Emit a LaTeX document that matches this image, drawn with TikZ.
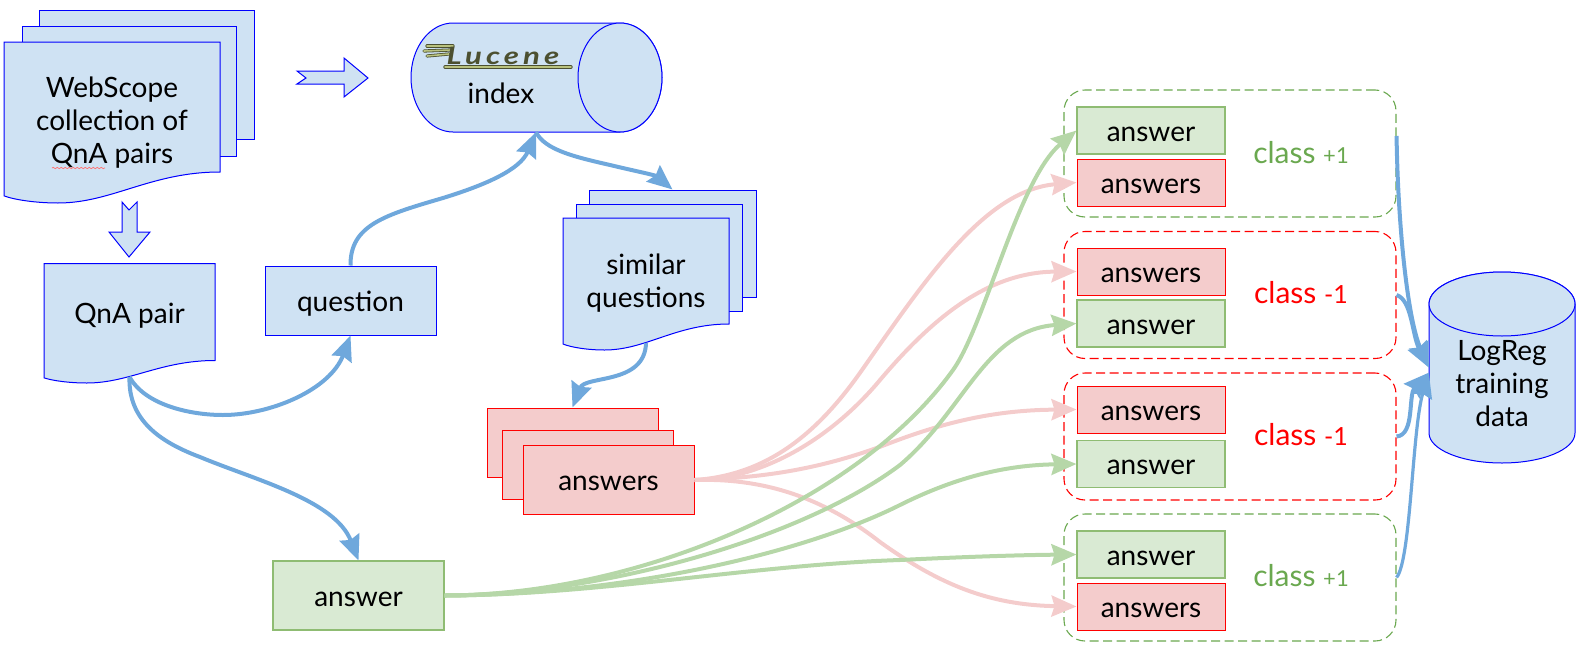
\documentclass[tikz,border=0pt]{standalone}
\usepackage{fontspec}
\setmainfont{Lato}
\newfontfamily\logofont[LetterSpace=17,FakeStretch=1.3]{Lato}
\usetikzlibrary{arrows.meta,decorations.pathmorphing}
\definecolor{sheetblue}{HTML}{CFE2F3}
\definecolor{sheetred}{HTML}{F4CCCC}
\definecolor{sheetgreen}{HTML}{D9EAD3}
\definecolor{edgegreen}{HTML}{8FBC73}
\definecolor{dashgreen}{HTML}{6AA84F}
\definecolor{linkblue}{HTML}{6FA8DC}
\definecolor{linkgreen}{HTML}{B6D7A8}
\definecolor{linkred}{HTML}{F4CCCC}
\definecolor{logoolive}{HTML}{B9C27E}
\definecolor{logodark}{HTML}{4C5030}
\tikzset{
  bluesheet/.style={draw=blue,fill=sheetblue,line width=1pt},
  bluebox/.style={bluesheet,inner sep=0pt},
  redbox/.style={draw=red,fill=sheetred,line width=1pt,inner sep=0pt},
  greenbox/.style={draw=edgegreen,fill=sheetgreen,line width=1.1pt,inner sep=0pt},
  anchorbox/.style={inner sep=0pt},
  smallbox/.style={minimum width=148,minimum height=47},
  bigbox/.style={minimum width=171,minimum height=69},
  classbox/.style={rounded corners=21pt,dash pattern=on 9pt off 4.5pt,line width=1.1pt,minimum width=332,minimum height=127,inner sep=0pt},
  lbl/.style={font=\fontsize{28}{33}\selectfont,align=center,inner sep=0pt},
  boxlbl/.style={font=\fontsize{28}{33}\selectfont,text height=21pt,text depth=0pt},
  classlbl/.style={lbl,font=\fontsize{30}{33}\selectfont},
  linkb/.style={draw=linkblue,line width=4pt,->},
  linkg/.style={draw=linkgreen,line width=4pt,->},
  linkr/.style={draw=linkred,line width=4pt,->}
}
\newcommand{\docsheet}[6]{%
  \pgfmathsetmacro\sheetw{#4-#2}
  \filldraw[bluesheet] (#2,#3)--(#4,#3)--(#4,#5)
    .. controls ({#4-.32*\sheetw},#5) and ({#2+.5*\sheetw},{#5+#6}) .. ({#2+.25*\sheetw},{#5+#6})
    .. controls ({#2+.15*\sheetw},{#5+#6}) and ({#2+.05*\sheetw},{#5+.9*#6}) .. (#2,{#5+.77*#6})--cycle;
  \node (#1) at ({(#2+#4)/2},{(#3+#5+.72*#6)/2})[anchorbox,minimum width=\sheetw,minimum height={#5+.72*#6-#3}]{};
}
\begin{document}
\begin{tikzpicture}[x=1pt,y=-1pt,>={Stealth[length=25pt,width=21pt,inset=3pt]}]
  \useasboundingbox (0,0) rectangle (1582,648);
  % left column
  \node (webback) at (146.5,74.5)[bluebox,minimum width=215,minimum height=129]{};
  \node (webmid) at (129,91)[bluebox,minimum width=214,minimum height=130]{};
  \docsheet{webfront}{4}{42}{220}{172}{31}
  \node (webtxt) at (112,123)[lbl]{WebScope\\collection of\\QnA pairs};
  \draw[red!55,line width=.7pt,decorate,decoration={snake,amplitude=.7pt,segment length=4pt}] (52,168)--(105,168);
  \filldraw[bluesheet] (297,71)--(344,71)--(344,58)--(368,78)--(344,97)--(344,84)--(297,84)--(306,78)--cycle;
  \filldraw[bluesheet] (122,202)--(129,210)--(137,202)--(137,232)--(150,232)--(129,257)--(109,232)--(122,232)--cycle;
  \docsheet{qnapair}{44}{263.5}{215}{360.5}{22.5}
  \node (qnatxt) at (129.5,316)[lbl]{QnA pair};
  \node (question) at (350.5,300.5)[bluebox,bigbox,boxlbl]{question};
  \node (answer) at (358.5,595.5)[greenbox,bigbox,boxlbl]{answer};
  % index
  \filldraw[bluesheet] (453,23)--(620,23) arc (-90:90:42 and 54.5)--(453,132) arc (90:270:42 and 54.5)--cycle;
  \draw[bluesheet] (620,77.5) ellipse (42 and 54.5);
  \node (index) at (536,77.5)[anchorbox,minimum width=250,minimum height=109]{};
  \node (indextxt) at (501,93)[lbl]{index};
  % logo
  \draw[logodark,line width=3.4pt,line cap=round] (445,67)--(571,67);
  \draw[logoolive,line width=1.8pt,line cap=round] (445,67)--(571,67);
  \foreach \wx/\wy/\ex/\ey in {427/46/453/46,424/51/451/50,427/56/449/54}{
    \draw[logodark,line width=3.2pt,line cap=round] (\wx,\wy)--(\ex,\ey);
    \draw[logoolive,line width=1.6pt,line cap=round] (\wx,\wy)--(\ex,\ey);
  }
  \node (lucene) at (503,56)[anchorbox,text=logodark,font=\logofont\itshape\bfseries\fontsize{24}{26}\selectfont]{Lucene};
  % similar questions
  \node (simback) at (672.5,243.5)[bluebox,minimum width=167,minimum height=107]{};
  \node (simmid) at (659,257.5)[bluebox,minimum width=166,minimum height=107]{};
  \docsheet{simfront}{563}{218}{729}{324}{26}
  \node (simtxt) at (646,283.5)[lbl]{similar\\questions};
  % answers stack
  \node (ansback) at (572.5,442.5)[redbox,bigbox]{};
  \node (ansmid) at (588,464.5)[redbox,bigbox]{};
  \node (answers) at (608.5,480)[redbox,bigbox,boxlbl]{answers};
  % class groups
  \node (clsa) at (1230,153.5)[classbox,draw=dashgreen]{};
  \node (clsb) at (1230,295)[classbox,draw=red]{};
  \node (clsc) at (1230,436.5)[classbox,draw=red]{};
  \node (clsd) at (1230,577.5)[classbox,draw=dashgreen]{};
  \node (gra) at (1151,130.5)[greenbox,smallbox,boxlbl]{answer};
  \node (rda) at (1151,182.5)[redbox,smallbox,boxlbl]{answers};
  \node (rdb) at (1151,271.5)[redbox,smallbox,boxlbl]{answers};
  \node (grb) at (1151,323.5)[greenbox,smallbox,boxlbl]{answer};
  \node (rdc) at (1151,409.5)[redbox,smallbox,boxlbl]{answers};
  \node (grc) at (1151,464)[greenbox,smallbox,boxlbl]{answer};
  \node (grd) at (1151,554.5)[greenbox,smallbox,boxlbl]{answer};
  \node (rdd) at (1151,606.5)[redbox,smallbox,boxlbl]{answers};
  \node (txta) at (1301,153)[classlbl,text=dashgreen]{class {\fontsize{22}{24}\selectfont +1}};
  \node (txtb) at (1301,293)[classlbl,text=red]{class {\fontsize{25}{24}\selectfont -1}};
  \node (txtc) at (1301,435)[classlbl,text=red]{class {\fontsize{25}{24}\selectfont -1}};
  \node (txtd) at (1301,576)[classlbl,text=dashgreen]{class {\fontsize{22}{24}\selectfont +1}};
  % training data
  \filldraw[bluesheet] (1429,304)--(1429,433) arc (180:0:73 and 30)--(1575,304) arc (0:-180:73 and 32)--cycle;
  \draw[bluesheet] (1502,304) ellipse (73 and 32);
  \node (logreg) at (1502,367.5)[anchorbox,minimum width=146,minimum height=191]{};
  \node (logregtxt) at (1502,384)[lbl]{LogReg\\training\\data};
  % blue links
  \draw[linkb] (qnapair.south) .. controls (145,405) and (190,415) .. (223,415) .. controls (270,415) and (330,390) .. (question.south);
  \draw[linkb] (qnapair.south) .. controls (128,420) and (160,442) .. (200,457) .. controls (255,480) and (335,500) .. (answer.north);
  \draw[linkb] (question.north) .. controls (350,225) and (385,215) .. (443,198) .. controls (485,185) and (520,170) .. (index.south);
  \draw[linkb] (index.south) .. controls (545,150) and (575,157) .. (610,165) .. controls (635,171) and (655,175) .. (simback.north);
  \draw[linkb] (simfront.south) .. controls (645,385) and (585,375) .. (ansback.north);
  % answers links
  \draw[linkr] (answers.east) .. controls (770,475) and (820,430) .. (862,370) .. controls (925,280) and (985,190) .. (rda.west);
  \draw[linkr] (answers.east) .. controls (760,480) and (830,440) .. (880,380) .. controls (935,315) and (990,272) .. (rdb.west);
  \draw[linkr] (answers.east) .. controls (760,478) and (820,470) .. (890,443) .. controls (950,420) and (1000,410) .. (rdc.west);
  \draw[linkr] (answers.east) .. controls (760,478) and (820,495) .. (880,542) .. controls (940,585) and (990,605) .. (rdd.west);
  % answer links
  \draw[linkg] (answer.east) .. controls (640,595) and (860,500) .. (953,370) .. controls (985,325) and (1018,180) .. (gra.west);
  \draw[linkg] (answer.east) .. controls (600,595) and (800,540) .. (900,465) .. controls (965,410) and (985,330) .. (grb.west);
  \draw[linkg] (answer.east) .. controls (620,595) and (800,555) .. (900,505) .. controls (960,475) and (1010,465) .. (grc.west);
  \draw[linkg] (answer.east) .. controls (600,595) and (750,565) .. (900,560) .. controls (960,557) and (1020,555) .. (grd.west);
  % class links
  \draw[linkb] (clsa.6.4) .. controls (1398,230) and (1408,320) .. (logreg.west);
  \draw[linkb] (clsb.east) .. controls (1412,300) and (1412,335) .. (logreg.west);
  \draw[linkb] (clsc.east) .. controls (1415,435) and (1408,395) .. (logreg.184);
  \draw[linkb,line width=3.2pt] (clsd.east) .. controls (1411,560) and (1412,430) .. (logreg.184);
\end{tikzpicture}
\end{document}
